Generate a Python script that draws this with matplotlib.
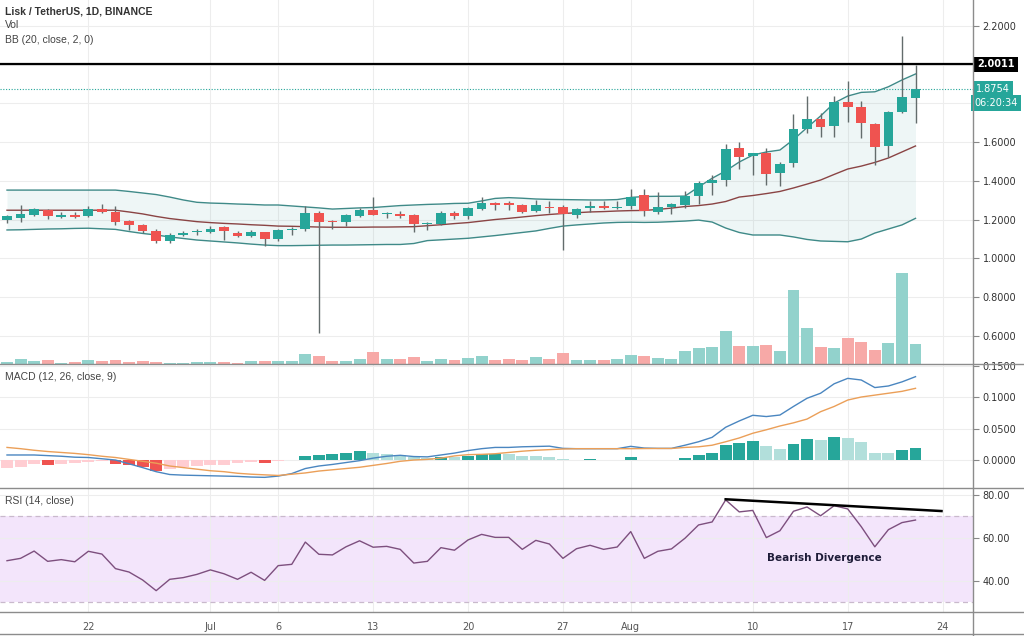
import matplotlib
matplotlib.use('Agg')
import matplotlib.pyplot as plt
import matplotlib.dates as mdates
import matplotlib.transforms as mtransforms
from matplotlib.lines import Line2D
import numpy as np
import pandas as pd

# ---------------- data ----------------
start_date = '2020-06-16'
n_days = 68
opens = [1.195, 1.208, 1.225, 1.249, 1.213, 1.223, 1.218, 1.253, 1.239, 1.191,
         1.172, 1.141, 1.087, 1.121, 1.133, 1.135, 1.159, 1.132, 1.115, 1.135,
         1.101, 1.147, 1.149, 1.232, 1.194, 1.189, 1.220, 1.249, 1.228, 1.230,
         1.222, 1.177, 1.177, 1.232, 1.220, 1.256, 1.284, 1.281, 1.273, 1.245,
         1.267, 1.263, 1.225, 1.261, 1.272, 1.259, 1.270, 1.325, 1.237, 1.266,
         1.273, 1.321, 1.387, 1.403, 1.568, 1.530, 1.542, 1.439, 1.490, 1.669,
         1.719, 1.682, 1.809, 1.783, 1.695, 1.580, 1.754, 1.826]
highs = [1.222, 1.275, 1.261, 1.255, 1.239, 1.239, 1.270, 1.279, 1.270, 1.197,
         1.177, 1.152, 1.132, 1.141, 1.153, 1.166, 1.166, 1.142, 1.146, 1.138,
         1.153, 1.163, 1.270, 1.244, 1.197, 1.229, 1.259, 1.318, 1.239, 1.243,
         1.227, 1.186, 1.244, 1.242, 1.266, 1.315, 1.289, 1.294, 1.280, 1.301,
         1.294, 1.275, 1.261, 1.294, 1.294, 1.294, 1.356, 1.359, 1.342, 1.284,
         1.349, 1.397, 1.432, 1.589, 1.602, 1.545, 1.568, 1.495, 1.745, 1.838,
         1.749, 1.838, 1.917, 1.812, 1.700, 1.762, 2.148, 1.998]
lows = [1.183, 1.189, 1.220, 1.201, 1.210, 1.210, 1.215, 1.236, 1.172, 1.146,
        1.131, 1.080, 1.080, 1.116, 1.118, 1.132, 1.094, 1.108, 1.108, 1.063,
        1.087, 1.118, 1.142, 0.613, 1.150, 1.166, 1.212, 1.222, 1.208, 1.208,
        1.135, 1.146, 1.170, 1.203, 1.204, 1.249, 1.249, 1.249, 1.232, 1.238,
        1.232, 1.042, 1.208, 1.240, 1.254, 1.256, 1.254, 1.218, 1.230, 1.230,
        1.261, 1.280, 1.325, 1.375, 1.459, 1.430, 1.377, 1.373, 1.470, 1.645,
        1.625, 1.625, 1.704, 1.621, 1.482, 1.521, 1.750, 1.697]
closes = [1.218, 1.227, 1.254, 1.218, 1.223, 1.213, 1.254, 1.239, 1.189, 1.173,
          1.139, 1.087, 1.118, 1.128, 1.136, 1.152, 1.139, 1.115, 1.135, 1.101,
          1.146, 1.150, 1.235, 1.189, 1.187, 1.222, 1.249, 1.225, 1.231, 1.220,
          1.177, 1.183, 1.232, 1.220, 1.259, 1.284, 1.273, 1.277, 1.239, 1.273,
          1.261, 1.227, 1.254, 1.270, 1.259, 1.266, 1.318, 1.242, 1.266, 1.278,
          1.323, 1.387, 1.404, 1.563, 1.525, 1.542, 1.435, 1.485, 1.666, 1.719,
          1.676, 1.807, 1.783, 1.699, 1.575, 1.754, 1.835, 1.875]
volumes = [58, 118, 75, 100, 33, 58, 108, 83, 100, 58,
           83, 58, 33, 33, 43, 58, 58, 33, 83, 83,
           83, 83, 258, 200, 83, 83, 133, 300, 118, 118,
           175, 75, 118, 100, 150, 200, 100, 133, 100, 175,
           133, 283, 93, 93, 93, 133, 218, 200, 158, 133,
           318, 393, 418, 833, 458, 458, 483, 333, 1850, 893,
           433, 393, 658, 558, 358, 533, 2275, 508]
bb_upper = [1.352, 1.352, 1.352, 1.352, 1.352, 1.352, 1.352, 1.352, 1.352, 1.345,
            1.337, 1.329, 1.316, 1.301, 1.289, 1.285, 1.283, 1.280, 1.278, 1.275,
            1.275, 1.270, 1.265, 1.260, 1.254, 1.257, 1.260, 1.262, 1.267, 1.272,
            1.275, 1.278, 1.280, 1.283, 1.284, 1.296, 1.309, 1.313, 1.310, 1.306,
            1.304, 1.303, 1.302, 1.301, 1.301, 1.303, 1.314, 1.319, 1.320, 1.320,
            1.321, 1.368, 1.413, 1.451, 1.497, 1.533, 1.549, 1.559, 1.613, 1.675,
            1.735, 1.802, 1.838, 1.857, 1.860, 1.886, 1.921, 1.952]
bb_basis = [1.248, 1.248, 1.248, 1.248, 1.248, 1.248, 1.248, 1.248, 1.248, 1.239,
            1.229, 1.216, 1.205, 1.197, 1.189, 1.184, 1.180, 1.177, 1.173, 1.170,
            1.166, 1.165, 1.163, 1.161, 1.160, 1.160, 1.160, 1.161, 1.161, 1.162,
            1.163, 1.168, 1.173, 1.179, 1.184, 1.192, 1.200, 1.206, 1.213, 1.220,
            1.226, 1.231, 1.235, 1.239, 1.241, 1.244, 1.246, 1.247, 1.252, 1.259,
            1.267, 1.272, 1.280, 1.293, 1.316, 1.324, 1.334, 1.345, 1.363, 1.383,
            1.404, 1.433, 1.461, 1.476, 1.495, 1.518, 1.549, 1.580]
bb_lower = [1.146, 1.147, 1.149, 1.151, 1.152, 1.154, 1.155, 1.152, 1.149, 1.138,
            1.128, 1.120, 1.110, 1.102, 1.094, 1.089, 1.084, 1.079, 1.073, 1.068,
            1.065, 1.065, 1.066, 1.067, 1.068, 1.068, 1.069, 1.070, 1.071, 1.071,
            1.076, 1.091, 1.095, 1.099, 1.103, 1.110, 1.117, 1.125, 1.133, 1.141,
            1.154, 1.166, 1.172, 1.177, 1.182, 1.185, 1.186, 1.185, 1.186, 1.189,
            1.192, 1.197, 1.187, 1.156, 1.133, 1.120, 1.120, 1.120, 1.110, 1.097,
            1.089, 1.087, 1.085, 1.099, 1.130, 1.151, 1.172, 1.206]
macd_line = [0.008, 0.008, 0.008, 0.007, 0.006, 0.0045, 0.004, 0.002, 0.000, -0.006,
             -0.012, -0.0185, -0.023, -0.024, -0.0245, -0.025, -0.0255, -0.026, -0.027, -0.0275,
             -0.0255, -0.0215, -0.0135, -0.0095, -0.007, -0.004, -0.001, 0.003, 0.006, 0.0075,
             0.0055, 0.005, 0.008, 0.011, 0.015, 0.018, 0.020, 0.020, 0.021, 0.0215,
             0.022, 0.0185, 0.018, 0.018, 0.018, 0.018, 0.0217, 0.019, 0.0185, 0.0185,
             0.0235, 0.029, 0.036, 0.052, 0.062, 0.071, 0.069, 0.0714, 0.085, 0.098,
             0.106, 0.121, 0.1296, 0.127, 0.115, 0.1175, 0.124, 0.1323]
signal_line = [0.020, 0.018, 0.0155, 0.0135, 0.012, 0.0105, 0.0085, 0.006, 0.004, 0.001,
               -0.002, -0.005, -0.0095, -0.012, -0.0145, -0.017, -0.0185, -0.021, -0.0225, -0.0235,
               -0.0245, -0.0225, -0.0205, -0.0175, -0.0155, -0.0135, -0.0115, -0.0085, -0.0055, -0.002,
               0.000, 0.001, 0.003, 0.0065, 0.0085, 0.009, 0.010, 0.012, 0.014, 0.0155,
               0.0165, 0.0175, 0.018, 0.018, 0.018, 0.018, 0.018, 0.0182, 0.0183, 0.0183,
               0.020, 0.021, 0.0235, 0.029, 0.035, 0.0425, 0.048, 0.054, 0.059, 0.065,
               0.0767, 0.085, 0.0952, 0.100, 0.103, 0.106, 0.109, 0.1138]
macd_hist = [-0.0132, -0.0117, -0.0063, -0.0079, -0.0063, -0.0053, -0.0026, -0.0016, -0.0058, -0.0079,
             -0.0116, -0.0169, -0.0148, -0.0116, -0.0095, -0.0085, -0.0074, -0.0053, -0.0032, -0.0048,
             -0.0010, -0.0003, 0.0063, 0.0085, 0.0088, 0.0116, 0.0143, 0.0106, 0.0090, 0.0074,
             0.0053, 0.0040, 0.0053, 0.0042, 0.0063, 0.0090, 0.0100, 0.0090, 0.0063, 0.0063,
             0.0053, 0.0010, 0.0005, 0.0020, 0.0005, 0.0005, 0.0048, 0.0005, 0.0005, 0.0003,
             0.0032, 0.0080, 0.0116, 0.0238, 0.0270, 0.0296, 0.0222, 0.0180, 0.0260, 0.0333,
             0.0317, 0.0370, 0.0354, 0.0280, 0.0116, 0.0116, 0.0159, 0.0185]
rsi = [49.3, 50.4, 53.8, 49.0, 49.8, 48.8, 53.7, 52.4, 45.6, 44.0,
       40.3, 35.3, 40.6, 41.4, 42.9, 45.0, 43.2, 40.6, 43.9, 40.1,
       47.0, 47.6, 58.0, 52.3, 52.0, 55.8, 58.6, 55.6, 56.0, 54.6,
       48.2, 49.0, 55.4, 54.2, 59.0, 61.6, 60.2, 60.2, 54.6, 58.8,
       57.1, 50.4, 54.9, 56.5, 54.6, 55.7, 62.9, 50.4, 53.7, 54.8,
       59.8, 66.0, 67.4, 77.7, 72.1, 72.8, 60.1, 63.3, 72.4, 74.4,
       70.3, 75.0, 73.5, 65.2, 55.8, 63.8, 67.1, 68.3]
divergence_times = ['2020-08-08 00:00', '2020-08-23 22:00']
divergence_values = [78.0, 72.5]
resistance_level = 2.0011
last_price = 1.8754
countdown = '06:20:34'
tick_dates = ['2020-06-22', '2020-07-01', '2020-07-06', '2020-07-13', '2020-07-20',
              '2020-07-27', '2020-08-01', '2020-08-10', '2020-08-17', '2020-08-24']
tick_labels = ['22', 'Jul', '6', '13', '20', '27', 'Aug', '10', '17', '24']
price_ticks = [0.6, 0.8, 1.0, 1.2, 1.4, 1.6, 1.8, 2.0, 2.2]
price_tick_labels = ['0.6000', '0.8000', '1.0000', '1.2000', '1.4000', '1.6000', '', '', '2.2000']
macd_ticks = [0.0, 0.05, 0.10, 0.15]
macd_tick_labels = ['0.0000', '0.0500', '0.1000', '0.1500']
rsi_ticks = [40, 60, 80]
rsi_tick_labels = ['40.00', '60.00', '80.00']

# ---------------- style ----------------
GREEN = '#26a69a'
RED = '#ef5350'
GRID = '#ededed'
SEP = '#8c8c8c'
LABEL_FONT = ['Liberation Sans', 'DejaVu Sans']
W, H = 1024, 636

dates = pd.date_range(start_date, periods=n_days, freq='D')
x = mdates.date2num(dates.to_pydatetime())
o = np.array(opens); hi = np.array(highs); lo = np.array(lows); c = np.array(closes)
up = c >= o

fig = plt.figure(figsize=(W / 100, H / 100), dpi=100)
fig.patch.set_facecolor('white')


def rect(top, bottom, right=973):
    return [0, 1 - bottom / H, right / W, (bottom - top) / H]


ax_vol = fig.add_axes(rect(0, 364))
ax = fig.add_axes(rect(0, 364), sharex=ax_vol)
ax_macd = fig.add_axes(rect(364, 488), sharex=ax_vol)
ax_rsi = fig.add_axes(rect(488, 612), sharex=ax_vol)
ax.patch.set_visible(False)

x0 = x[0]
for a in (ax_vol, ax, ax_macd, ax_rsi):
    a.set_xlim(x0 - 0.516, x0 + 71.24)
    for s in a.spines.values():
        s.set_visible(False)
    a.set_xticks(mdates.date2num(pd.to_datetime(tick_dates).to_pydatetime()))
    a.tick_params(axis='x', length=0, labelbottom=False)

# volume (bottom layer)
ax_vol.set_ylim(0, max(volumes) * 364 / 91)
ax_vol.set_yticks([])
ax_vol.grid(axis='x', color=GRID, lw=0.8)
ax_vol.set_axisbelow(True)
blend = mtransforms.blended_transform_factory(ax_vol.transAxes, ax.transData)
for p in price_ticks:
    ax_vol.add_line(Line2D([0, 1], [p, p], transform=blend, color=GRID, lw=0.8, zorder=0))
vol_colors = np.where(up, '#92d2cc', '#f7a9a7')
ax_vol.bar(x, volumes, width=0.88, color=vol_colors, lw=0, zorder=1)

# main price panel
ax.set_ylim(0.4533, 2.3344)
ax.fill_between(x, bb_lower, bb_upper, color='#198787', alpha=0.07, lw=0, zorder=1)
ax.plot(x, bb_upper, color='#3f8a88', lw=1.0, zorder=2)
ax.plot(x, bb_lower, color='#3f8a88', lw=1.0, zorder=2)
ax.plot(x, bb_basis, color='#8a4444', lw=1.0, zorder=2)
ax.vlines(x, lo, hi, color='#636c6c', lw=1.0, zorder=3)
body_bottom = np.minimum(o, c)
body_h = np.maximum(np.abs(c - o), 0.006)
ax.bar(x, body_h, bottom=body_bottom, width=0.72, color=np.where(up, GREEN, RED), lw=0, zorder=4)
ax.axhline(resistance_level, color='black', lw=1.6, zorder=5)
ax.axhline(last_price, color=GREEN, lw=0.8, ls=(0, (1, 1.5)), zorder=5)

ax.yaxis.tick_right()
ax.set_yticks(price_ticks)
ax.set_yticklabels(price_tick_labels)
ax.tick_params(axis='y', direction='out', length=4, width=0.8, color='#888888',
               labelsize=7, labelcolor='#333333', pad=3)

ytr = ax.get_yaxis_transform()
ax.annotate(f'{resistance_level:.4f}', xy=(1.0, resistance_level), xycoords=ytr,
            xytext=(3, 0), textcoords='offset points', va='center', ha='left',
            color='white', fontsize=7, fontweight='bold', annotation_clip=False,
            bbox=dict(boxstyle='square,pad=0.3', fc='black', ec='none'))
ax.annotate(f'{last_price:.4f}', xy=(1.0, last_price), xycoords=ytr,
            xytext=(2, 0), textcoords='offset points', va='center', ha='left',
            color='white', fontsize=7, annotation_clip=False,
            bbox=dict(boxstyle='square,pad=0.3', fc=GREEN, ec='none'))
ax.annotate(countdown, xy=(1.0, last_price), xycoords=ytr,
            xytext=(1, -10.5), textcoords='offset points', va='center', ha='left',
            color='white', fontsize=7, annotation_clip=False,
            bbox=dict(boxstyle='square,pad=0.3', fc=GREEN, ec='none'))

# MACD panel
ax_macd.set_ylim(-0.0444, 0.1524)
ax_macd.grid(color=GRID, lw=0.8)
ax_macd.set_axisbelow(True)
hist = np.array(macd_hist)
prev = np.concatenate([[hist[0] - 1e-6], hist[:-1]])
hist_colors = np.where(hist >= 0,
                       np.where(hist > prev, '#26a69a', '#b2dfdb'),
                       np.where(hist > prev, '#ffcdd2', '#ef5350'))
ax_macd.bar(x, hist, width=0.88, color=hist_colors, lw=0, zorder=2)
ax_macd.plot(x, macd_line, color='#4a86c0', lw=1.0, zorder=3)
ax_macd.plot(x, signal_line, color='#eb9f58', lw=1.0, zorder=3)
ax_macd.yaxis.tick_right()
ax_macd.set_yticks(macd_ticks)
ax_macd.set_yticklabels(macd_tick_labels)
ax_macd.tick_params(axis='y', direction='out', length=4, width=0.8, color='#888888',
                    labelsize=7, labelcolor='#333333', pad=3)

# RSI panel
ax_rsi.set_ylim(25.33, 83.27)
ax_rsi.grid(color=GRID, lw=0.8)
ax_rsi.set_axisbelow(True)
ax_rsi.axhspan(30, 70, color='#f3e5fb', lw=0, zorder=0.5)
ax_rsi.axhline(70, color='#c9b9cc', lw=0.9, ls=(0, (4, 3)), zorder=1)
ax_rsi.axhline(30, color='#c9b9cc', lw=0.9, ls=(0, (4, 3)), zorder=1)
ax_rsi.plot(x, rsi, color='#7d4f7e', lw=1.0, zorder=3)
div_x = mdates.date2num(pd.to_datetime(divergence_times).to_pydatetime())
ax_rsi.plot(div_x, divergence_values, color='black', lw=1.8, zorder=4)
ax_rsi.text(x0 + 60.3, 50.6, 'Bearish Divergence', ha='center', va='center',
            fontsize=7.5, fontweight='bold', color='#1e1c38', zorder=5)
ax_rsi.yaxis.tick_right()
ax_rsi.set_yticks(rsi_ticks)
ax_rsi.set_yticklabels(rsi_tick_labels)
ax_rsi.tick_params(axis='y', direction='out', length=4, width=0.8, color='#888888',
                   labelsize=7, labelcolor='#333333', pad=3)
ax_rsi.set_xticklabels(tick_labels)
ax_rsi.tick_params(axis='x', labelbottom=True, labelsize=7, labelcolor='#555555', pad=7)

# panel labels
fig.text(5 / W, 1 - 12 / H, 'Lisk / TetherUS, 1D, BINANCE', fontsize=7.5, fontweight='bold',
         family=LABEL_FONT, color='#333333', va='center', ha='left')
fig.text(5 / W, 1 - 25 / H, 'Vol', fontsize=7.5, family=LABEL_FONT, color='#444444',
         va='center', ha='left')
fig.text(5 / W, 1 - 40 / H, 'BB (20, close, 2, 0)', fontsize=7.5, family=LABEL_FONT,
         color='#444444', va='center', ha='left')
fig.text(5 / W, 1 - 377 / H, 'MACD (12, 26, close, 9)', fontsize=7.5, family=LABEL_FONT,
         color='#444444', va='center', ha='left')
fig.text(5 / W, 1 - 501 / H, 'RSI (14, close)', fontsize=7.5, family=LABEL_FONT,
         color='#444444', va='center', ha='left')

# separators
for yy in (364, 488, 612, 634):
    fig.add_artist(Line2D([0, 1], [1 - yy / H, 1 - yy / H], transform=fig.transFigure,
                          color=SEP, lw=1.0))
fig.add_artist(Line2D([973 / W, 973 / W], [0, 1], transform=fig.transFigure, color=SEP, lw=1.0))

fig.savefig('out.png', dpi=100)
